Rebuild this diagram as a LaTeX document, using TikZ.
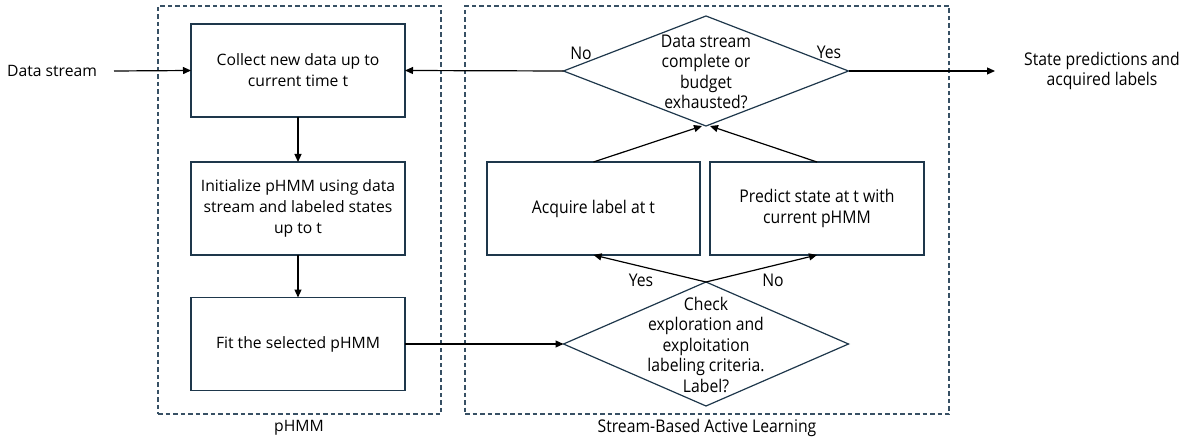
\documentclass[tikz,border=0pt]{standalone}
\usepackage{fontspec}
\setmainfont{Open Sans}
\newfontfamily\nfont[FakeStretch=0.9]{Open Sans}
\usetikzlibrary{shapes.geometric,arrows.meta}
\definecolor{boxc}{RGB}{30,55,75}
\definecolor{dashc}{RGB}{55,80,100}
\begin{document}
\begin{tikzpicture}[x=1pt,y=-1pt,
  rfont/.style={font=\fontsize{15.7}{21}\selectfont},
  nfnt/.style={font=\nfont\fontsize{17.5}{20.5}\selectfont},
  box/.style={draw=boxc,line width=1.2pt,minimum height=93pt,inner sep=0pt,outer sep=0pt,align=center},
  dia/.style={draw=boxc,line width=1.2pt,shape=diamond,inner sep=0pt,outer sep=0pt,minimum width=285pt},
  frame/.style={draw=dashc,line width=1.2pt,dash pattern=on 4.5pt off 3pt,inner sep=0pt},
  arr/.style={draw=black,line width=1.2pt,-{Triangle[length=8pt,width=7pt]}},
  txt/.style={inner sep=0pt,align=center}
]
\useasboundingbox (0,0) rectangle (1188,438);

% frames
\node[frame,minimum width=283pt,minimum height=408pt] (fl) at (299.5,210) {};
\node[frame,minimum width=484pt,minimum height=408pt] (fr) at (707,210) {};
\node[txt,rfont] (fll) at (299,428) {pHMM};
\node[txt,nfnt] (frl) at (707,428) {Stream-Based Active Learning};

% left column
\node[box,rfont,minimum width=214pt] (b1) at (298,70.5) {Collect new data up to\\current time t};
\node[box,rfont,minimum width=214pt] (b2) at (298,208.5) {Initialize pHMM using data\\stream and labeled states\\up to t};
\node[box,rfont,minimum width=214pt] (b3) at (298,344) {Fit the selected pHMM};

% right part
\node[dia,minimum height=110pt] (d1) at (706,71) {};
\node[txt,nfnt] (d1t) at (706,72) {Data stream\\complete or\\budget\\exhausted?};
\node[dia,minimum height=124pt] (d2) at (706,344) {};
\node[txt,nfnt] (d2t) at (706,344.5) {Check\\exploration and\\exploitation\\labeling criteria.\\Label?};
\node[box,nfnt,minimum width=213pt] (ba) at (593.5,208.5) {Acquire label at t};
\node[box,nfnt,minimum width=214pt] (bp) at (817,208.5) {Predict state at t with\\current pHMM};

% outside texts
\node[txt,rfont] (ds) at (52,71) {Data stream};
\coordinate (dse) at (114,71);
\node[txt,nfnt] (out) at (1102,71) {State predictions and\\acquired labels};
\coordinate (oute) at (995,71);

% connectors
\draw[arr] (dse) -- (b1.west);
\draw[arr] (b1.south) -- (b2.north);
\draw[arr] (b2.south) -- (b3.north);
\draw[arr] (b3.east) -- (d2.west);
\draw[arr] (d1.west) -- (b1.east);
\draw[arr] (d1.east) -- (oute);
\draw[arr] (ba.north) -- ([xshift=-4pt]d1.south);
\draw[arr] (bp.north) -- ([xshift=4pt]d1.south);
\draw[arr] (d2.north) -- (ba.south);
\draw[arr] (d2.north) -- (bp.south);

% branch labels
\node[txt,nfnt] (l1) at (581,53) {No};
\node[txt,nfnt] (l2) at (829,52) {Yes};
\node[txt,nfnt] (l3) at (641,280) {Yes};
\node[txt,nfnt] (l4) at (773,280) {No};
\end{tikzpicture}
\end{document}
